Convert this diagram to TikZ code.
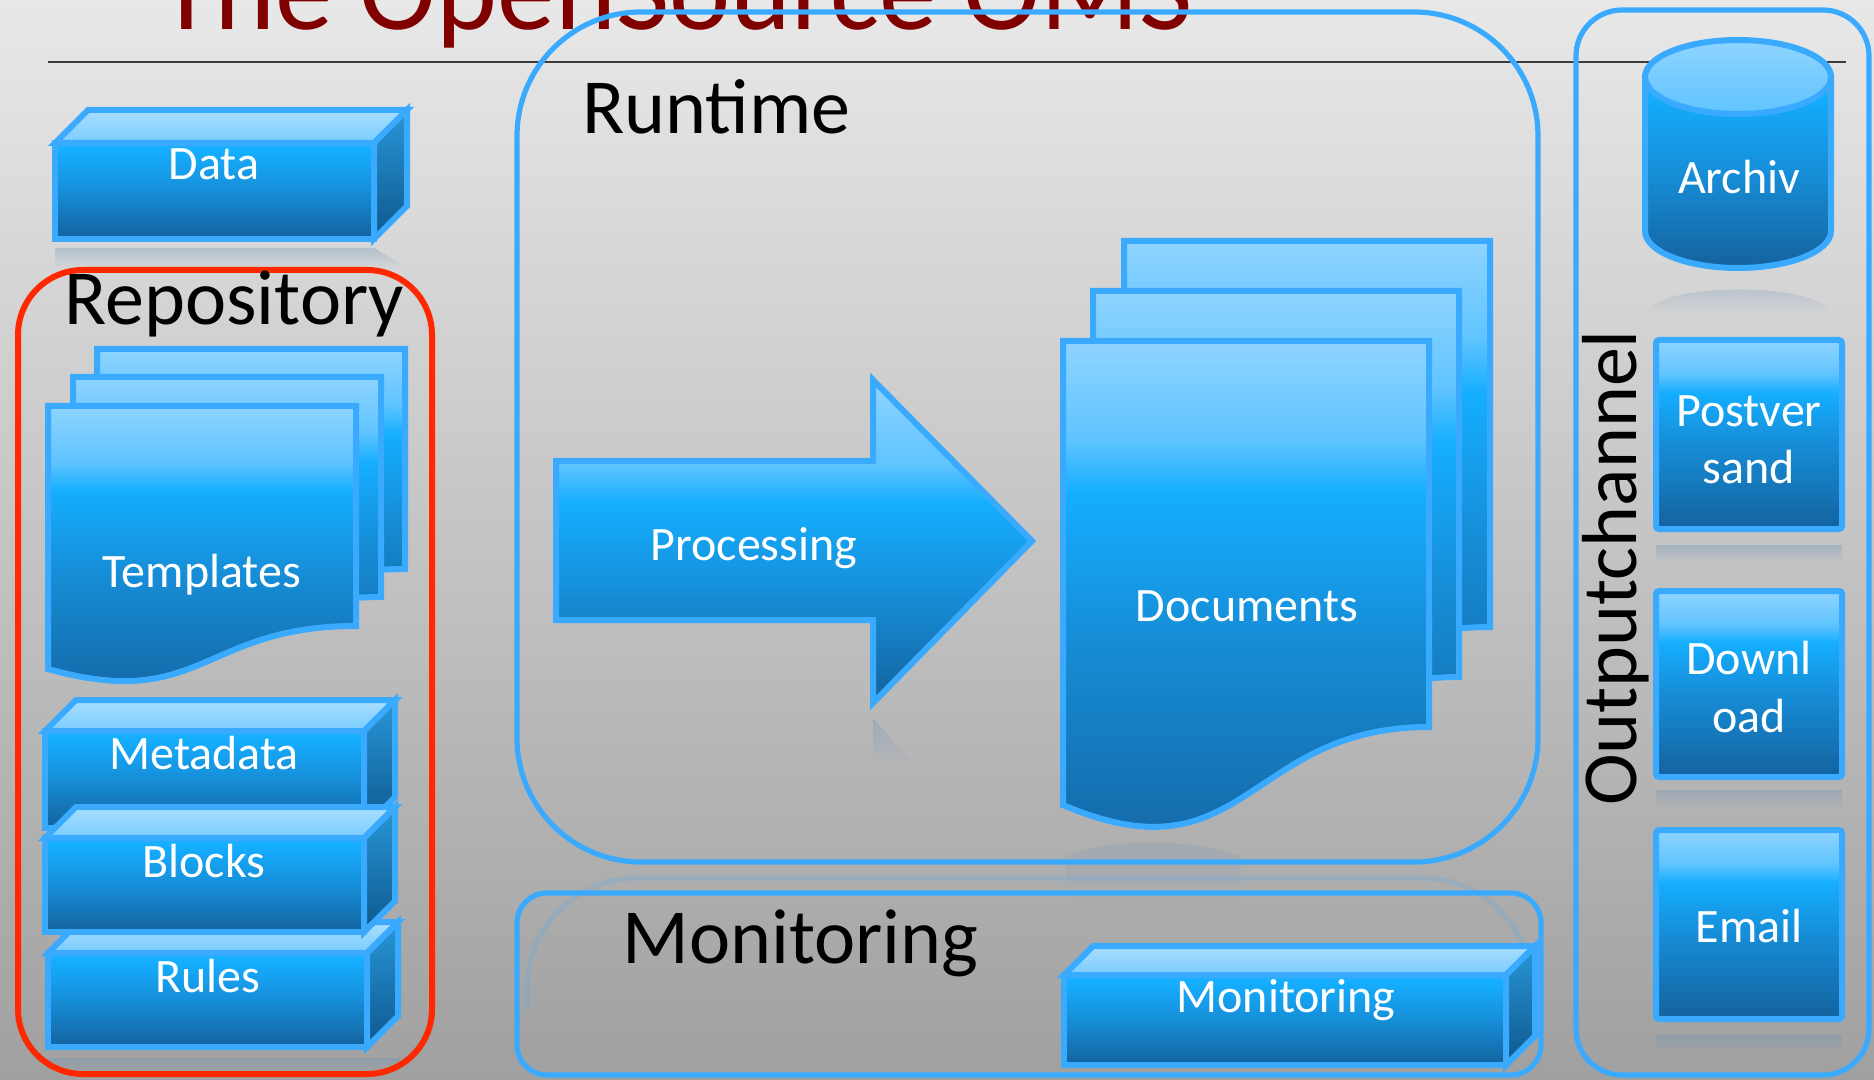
\documentclass[tikz,border=0pt]{standalone}
\usepackage{fontspec}
\setmainfont{Carlito}
\usetikzlibrary{fadings}

\definecolor{bord}{RGB}{58,170,255}
\definecolor{blight}{RGB}{143,212,255}
\definecolor{bpale}{RGB}{96,196,255}
\definecolor{bbright}{RGB}{21,174,255}
\definecolor{bfacetop}{RGB}{30,178,255}
\definecolor{bmid}{RGB}{22,142,216}
\definecolor{bdark}{RGB}{20,98,158}
\definecolor{tlight}{RGB}{168,222,255}
\definecolor{tlight2}{RGB}{122,204,255}
\definecolor{rtop}{RGB}{40,150,215}
\definecolor{rbot}{RGB}{14,88,142}
\definecolor{redframe}{RGB}{255,40,0}
\definecolor{titlered}{RGB}{128,0,0}
\definecolor{bgtop}{RGB}{232,232,232}
\definecolor{bgbot}{RGB}{160,160,160}
\definecolor{reflc}{RGB}{110,150,185}
\definecolor{rulec}{RGB}{60,60,60}

\pgfdeclareverticalshading{pageshade}{100bp}{color(0bp)=(bdark); color(25bp)=(bdark); color(48bp)=(bmid); color(61bp)=(bbright); color(66bp)=(bpale); color(75bp)=(blight); color(100bp)=(blight)}
\pgfdeclareverticalshading{faceshade}{100bp}{color(0bp)=(bdark); color(25bp)=(bdark); color(50bp)=(bmid); color(71bp)=(bbright); color(75bp)=(bfacetop); color(100bp)=(bfacetop)}
\pgfdeclareverticalshading{arrowshade}{100bp}{color(0bp)=(bdark); color(25bp)=(bdark); color(42bp)=(bmid); color(56bp)=(bbright); color(62bp)=(bpale); color(75bp)=(blight); color(100bp)=(blight)}
\pgfdeclareverticalshading{cyltopshade}{100bp}{color(0bp)=(bpale); color(25bp)=(bpale); color(75bp)=(blight); color(100bp)=(blight)}

\tikzset{
  bd/.style={draw=bord, line width=3pt, line join=miter},
  page/.style={bd, shading=pageshade},
  frontface/.style={bd, shading=faceshade, inner sep=0pt, outer sep=0pt},
  topface/.style={bd, top color=tlight, bottom color=tlight2},
  sideface/.style={bd, top color=rtop, bottom color=rbot},
  boxn/.style={bd, shading=pageshade, rounded corners=1.5pt, inner sep=0pt, outer sep=0pt, minimum width=93pt},
  lbl/.style={text=white, font=\fontsize{24}{28}\selectfont, inner sep=0pt},
  sect/.style={text=black, font=\fontsize{39}{44}\selectfont, inner sep=0pt},
  frame/.style={draw=bord, line width=2.6pt},
  refl/.style={fill=reflc, fill opacity=0.35, path fading=south},
  ghost/.style={draw=bord, line width=2.5pt, draw opacity=0.18}
}

\newcommand\cubebox[9]{%
  \draw[topface] (#2,#3) -- (#2+#6,#3-#6) -- (#4+#6,#3-#6) -- (#4,#3) -- cycle;
  \draw[sideface] (#4,#3) -- (#4+#6,#3-#6) -- (#4+#6,#5-#6) -- (#4,#5) -- cycle;
  \node[frontface, anchor=north west, minimum width={(#4-#2)*0.5pt}, minimum height={(#5-#3)*0.5pt}] (#1) at (#2,#3) {};
  \node[lbl, anchor=base] (#1-t) at (#7,#8) {#9};
}
\newcommand\docpage[5]{%
  \draw[page] (#1,#2) -- (#3,#2) -- (#3,#4) .. controls ({(#1+#3)/2},#4) and ({(#1+#3)/2},{#4+2*(#5-#4)}) .. (#1,#5) -- cycle;
}

\begin{document}
\begin{tikzpicture}[x=0.5pt,y=-0.5pt]
\useasboundingbox (0,0) rectangle (1874,1080);
\fill[top color=bgtop, bottom color=bgbot] (0,0) rectangle (1874,1080);

% title and rule
\node[anchor=base west, inner sep=0pt, text=titlered, font=\fontsize{58}{60}\selectfont] (title) at (158,30) {The OpenSource OMS};
\draw[rulec, line width=0.8pt] (48,62) -- (1846,62);

% reflections
\fill[refl] (55,248) -- (374,248) -- (407,268) -- (55,268) -- cycle;
\fill[refl] (48,1058) rectangle (400,1072);
\fill[refl] (873,718) -- (910,760) -- (873,765) -- cycle;
\fill[refl, fill opacity=0.22] (1066,900) -- (1066,856) .. controls (1110,838) and (1190,838) .. (1240,856) -- (1240,900) -- cycle;
\fill[refl] (1648,312) .. controls (1660,282) and (1818,282) .. (1830,312) -- cycle;
\fill[refl] (1656,545) rectangle (1842,562);
\fill[refl] (1656,790) rectangle (1842,807);
\fill[refl] (1656,1035) rectangle (1842,1052);
\draw[ghost, rounded corners=55pt] (527,1010) -- (527,878) -- (1532,878) -- (1532,1010);

% frames
\draw[draw=redframe, line width=3pt, rounded corners=32.5pt] (18,270) rectangle (432,1074);
\draw[frame, rounded corners=62pt] (517,12) rectangle (1538,862);
\draw[frame, rounded corners=15pt] (517,893) rectangle (1541,1075);
\draw[frame, rounded corners=23pt] (1576,10) rectangle (1869,1075);

% Data
\cubebox{data}{55}{143}{374}{239}{33}{214}{180}{Data}

% Templates
\docpage{97}{349}{405}{569}{612}
\docpage{73}{377}{381}{597}{640}
\docpage{48}{406}{356}{626}{669}
\node[lbl, anchor=base] (templates) at (202,587) {Templates};

% Metadata / Rules / Blocks
\cubebox{metadata}{45}{731}{364}{828}{31}{204}{769}{Metadata}
\cubebox{rules}{48}{953}{367}{1047}{31}{208}{992}{Rules}
\cubebox{blocks}{45}{838}{364}{932}{31}{204}{877}{Blocks}

% Processing arrow
\draw[bd, shading=arrowshade] (556,461) -- (873,461) -- (873,380) -- (1032,541) -- (873,703) -- (873,620) -- (556,620) -- cycle;
\node[lbl, anchor=base] (processing) at (754,560) {Processing};

% Documents
\docpage{1124}{241}{1490}{627}{705}
\docpage{1093}{291}{1459}{677}{755}
\docpage{1063}{341}{1429}{727}{805}
\node[lbl, anchor=base] (documents) at (1247,621) {Documents};

% Monitoring cuboid
\cubebox{moncube}{1064}{975}{1506}{1065}{29}{1286}{1012}{Monitoring}

% Archiv cylinder
\draw[bd, shading=faceshade] (1645,77) -- (1645,231) arc[start angle=180, end angle=0, x radius=93, y radius=37] -- (1831,77) -- cycle;
\draw[bd, shading=cyltopshade] (1738,77) ellipse [x radius=93, y radius=37];
\node[lbl, anchor=base] (archiv) at (1739,194) {Archiv};

% output boxes
\node[boxn, minimum height=94.5pt] (postversand) at (1749,434.5) {};
\node[lbl, anchor=base] (pv1) at (1749,427) {Postver};
\node[lbl, anchor=base] (pv2) at (1749,484) {sand};
\node[boxn, minimum height=93pt] (download) at (1749,684) {};
\node[lbl, anchor=base] (dl1) at (1749,674) {Downl};
\node[lbl, anchor=base] (dl2) at (1749,732) {oad};
\node[boxn, minimum height=94.5pt] (email) at (1749,924.5) {};
\node[lbl, anchor=base] (emailt) at (1749,942) {Email};

% section titles
\node[sect, anchor=base west] (repository) at (64,325) {Repository};
\node[sect, anchor=base west] (runtime) at (582,134) {Runtime};
\node[sect, anchor=base west] (monitoring) at (622,963) {Monitoring};
\node[sect, anchor=base, rotate=90] (outputchannel) at (1636,568) {Outputchannel};
\end{tikzpicture}
\end{document}
